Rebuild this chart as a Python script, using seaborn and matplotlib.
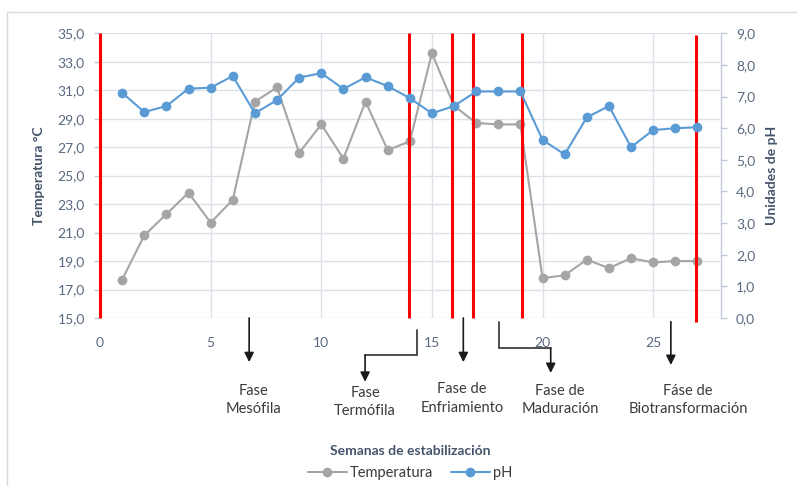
import matplotlib
matplotlib.use("Agg")
import matplotlib.pyplot as plt
import matplotlib.transforms as mtransforms
from matplotlib.lines import Line2D
from matplotlib.patches import Rectangle
import seaborn as sns
import pandas as pd

# Weekly measurements during compost stabilisation
weeks = list(range(1, 28))
temperature = [17.7, 20.8, 22.3, 23.8, 21.7, 23.3, 30.2, 31.2, 26.6, 28.6,
               26.2, 30.2, 26.8, 27.4, 33.6, 29.9, 28.7, 28.6, 28.6, 17.8,
               18.0, 19.1, 18.5, 19.2, 18.9, 19.0, 19.0]
ph = [7.12, 6.51, 6.70, 7.25, 7.28, 7.65, 6.47, 6.89, 7.60, 7.74,
      7.24, 7.61, 7.33, 6.95, 6.47, 6.70, 7.16, 7.16, 7.16, 5.63,
      5.17, 6.34, 6.70, 5.40, 5.94, 6.00, 6.03]

# Phase boundaries (weeks)
phase_bounds = [0, 13.95, 15.9, 16.85, 19.05, 26.95]

# Phase labels: text, text centre (week)
phase_names = ["Fase\nMesófila", "Fase\nTermófila", "Fase de\nEnfriamiento",
               "Fase de\nMaduración", "Fáse de\nBiotransformación"]
phase_text_x = [6.92, 11.98, 16.37, 20.8, 26.58]

left_ticks = [15, 17, 19, 21, 23, 25, 27, 29, 31, 33, 35]
right_ticks = [0, 1, 2, 3, 4, 5, 6, 7, 8, 9]
x_ticks = [0, 5, 10, 15, 20, 25]

df = pd.DataFrame({"Semana": weeks, "Temperatura": temperature, "pH": ph})

sns.set_style("white")
plt.rcParams["font.family"] = ["Lato", "DejaVu Sans"]

GREY = "#A5A5A5"
BLUE = "#5B9BD5"
TICK_C = "#5A6A80"
LABEL_C = "#44546A"
GRID_C = "#DCE1E8"
TEXT_C = "#3A3A3A"

fig = plt.figure(figsize=(7.97, 4.86), dpi=100)
ax = fig.add_axes([0.1255, 0.3457, 0.7773, 0.5858])
ax2 = ax.twinx()

sns.lineplot(data=df, x="Semana", y="Temperatura", ax=ax, color=GREY,
             marker="o", markersize=7, markeredgewidth=0, linewidth=1.5,
             zorder=3)
sns.lineplot(data=df, x="Semana", y="pH", ax=ax2, color=BLUE,
             marker="o", markersize=7, markeredgewidth=0, linewidth=1.5,
             zorder=4)

ax.set_xlim(0, 28)
ax.set_ylim(15, 35)
ax2.set_ylim(0, 9)
ax.set_xticks(x_ticks)
ax.set_yticks(left_ticks)
ax2.set_yticks(right_ticks)
ax.set_yticklabels([f"{v:.1f}".replace(".", ",") for v in left_ticks])
ax2.set_yticklabels([f"{v:.1f}".replace(".", ",") for v in right_ticks])

ax.grid(True, color=GRID_C, linewidth=1)
ax2.grid(False)
for sp in ["top", "right", "left", "bottom"]:
    ax.spines[sp].set_visible(False)
for sp in ["top", "left", "bottom"]:
    ax2.spines[sp].set_visible(False)
ax2.spines["right"].set_color("#BFC9D9")
ax2.spines["right"].set_linewidth(1)
ax2.spines["right"].set_position(("axes", 1.002))

ax.tick_params(axis="x", length=0, pad=14, labelsize=10, labelcolor=TICK_C)
ax.tick_params(axis="y", length=4, width=1, color="#BFC9D9", pad=7,
               labelsize=10, labelcolor=TICK_C)
ax2.tick_params(axis="y", length=4, width=1, color="#BFC9D9", pad=7,
                labelsize=10, labelcolor=TICK_C)

ax.set_ylabel("Temperatura °C", fontsize=10, fontweight="bold",
              color=LABEL_C, labelpad=9)
ax2.set_ylabel("Unidades de pH", fontsize=10, fontweight="bold",
               color=LABEL_C, labelpad=8)
ax.set_xlabel("Semanas de estabilización", fontsize=10, fontweight="bold",
              color=LABEL_C)
ax.xaxis.set_label_coords(0.5, -0.446)

# Phase boundary lines
for i, xb in enumerate(phase_bounds):
    ymin, ymax = (14.7, 34.85) if i == len(phase_bounds) - 1 else (15, 35)
    ax.vlines(xb, ymin, ymax, color="#FF0000", linewidth=2.2, zorder=3.5,
              clip_on=False)

# Phase arrows below the axis (x in weeks, y in axes fraction)
trans = mtransforms.blended_transform_factory(ax.transData, ax.transAxes)
ARROW_C = "#1A1A1A"
aprops = dict(arrowstyle="-|>", mutation_scale=14, lw=1.2, color=ARROW_C,
              shrinkA=0, shrinkB=0)


def straight_arrow(x, y0, y1):
    ax.annotate("", xy=(x, y1), xytext=(x, y0), xycoords=trans,
                textcoords=trans, arrowprops=aprops, annotation_clip=False)


def elbow_arrow(x0, y0, ymid, x1, y1):
    ax.plot([x0, x0, x1], [y0, ymid, ymid], transform=trans, color="#404040",
            lw=1.3, clip_on=False, solid_joinstyle="miter")
    ax.annotate("", xy=(x1, y1), xytext=(x1, ymid), xycoords=trans,
                textcoords=trans, arrowprops=aprops, annotation_clip=False)


straight_arrow(6.74, 0.0, -0.155)
elbow_arrow(14.31, -0.042, -0.130, 11.98, -0.224)
straight_arrow(16.42, 0.0, -0.155)
elbow_arrow(18.05, -0.013, -0.106, 20.37, -0.193)
straight_arrow(25.8, -0.013, -0.165)

phase_text_y = [-0.288, -0.295, -0.283, -0.288, -0.288]
for name, tx, ty in zip(phase_names, phase_text_x, phase_text_y):
    ax.text(tx, ty, name, transform=trans, ha="center", va="center",
            fontsize=10.5, color=TEXT_C, linespacing=1.4)

handles = [Line2D([], [], color=GREY, marker="o", markersize=7,
                  markeredgewidth=0, lw=1.5),
           Line2D([], [], color=BLUE, marker="o", markersize=7,
                  markeredgewidth=0, lw=1.5)]
fig.legend(handles, ["Temperatura", "pH"], loc="center",
           bbox_to_anchor=(0.5144, 0.0267), ncol=2, frameon=False,
           fontsize=10.5, handlelength=2.7, handletextpad=0.2,
           columnspacing=1.2, labelcolor=TEXT_C)

# Chart area border
fig.patches.append(Rectangle((0.0088, -0.05), 1.1, 1.025, transform=fig.transFigure,
                             fill=False, edgecolor="#D9D9D9", linewidth=1))

fig.savefig("out.png", dpi=100)
